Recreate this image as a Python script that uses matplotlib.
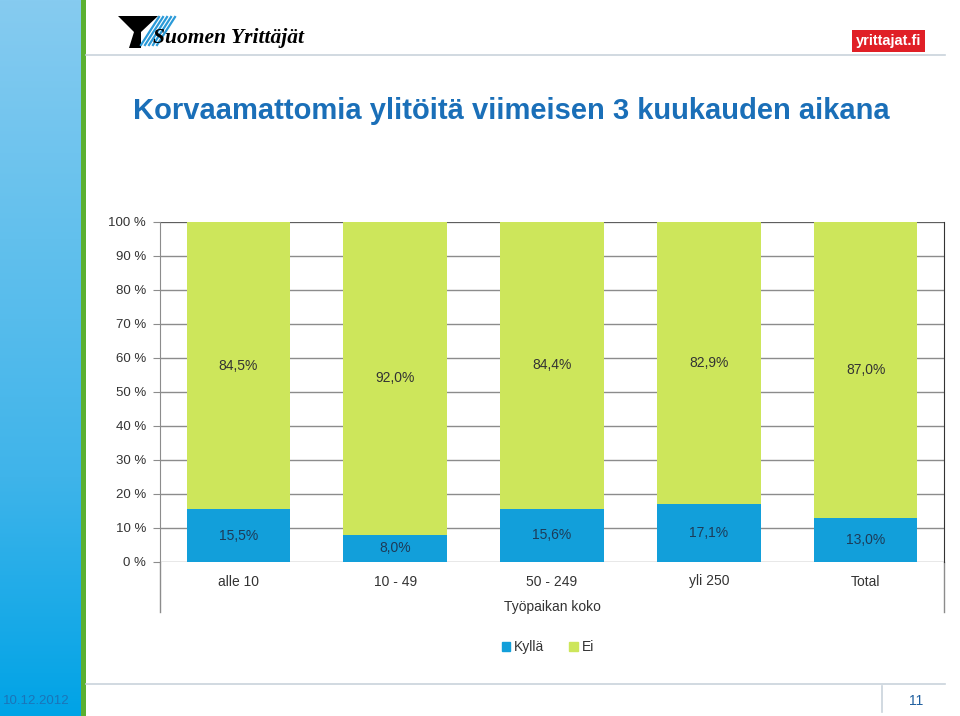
import matplotlib
matplotlib.use('Agg')
import matplotlib.pyplot as plt
import numpy as np
from matplotlib.patches import Polygon, Rectangle, Patch
from matplotlib.colors import LinearSegmentedColormap

# Data
categories = ['alle 10', '10 - 49', '50 - 249', 'yli 250', 'Total']
kylla = [15.5, 8.0, 15.6, 17.1, 13.0]
ei = [84.5, 92.0, 84.4, 82.9, 87.0]
series_names = ['Kyllä', 'Ei']
yticks = [0, 10, 20, 30, 40, 50, 60, 70, 80, 90, 100]

BLUE = '#129fda'
GREEN = '#cde65b'
TITLE_BLUE = '#1a6fb8'

plt.rcParams['font.family'] = ['Liberation Sans', 'DejaVu Sans']

W, H = 960, 716
fig = plt.figure(figsize=(W / 100, H / 100), dpi=100)

# Decoration layer in pixel coordinates
deco = fig.add_axes([0, 0, 1, 1], zorder=0)
deco.set_xlim(0, W)
deco.set_ylim(H, 0)
deco.axis('off')

# left gradient strip
cmap = LinearSegmentedColormap.from_list('strip', ['#86cbf0', '#62c0ed', '#3fb4ea', '#00a3e6'])
grad = np.linspace(0, 1, 256).reshape(-1, 1)
deco.imshow(grad, cmap=cmap, extent=[0, 81, H, 0], aspect='auto')
deco.add_patch(Rectangle((81, 0), 5, H, color='#5bb031', lw=0))
deco.text(3, 701, '10.12.2012', color='#1b74b8', fontsize=9.5, va='center', ha='left')

# header / footer rules
deco.plot([86, 945], [55, 55], color='#c9d3dc', lw=1.2)
deco.plot([86, 945], [684, 684], color='#c9d3dc', lw=1.2)
deco.plot([882, 882], [686, 712], color='#c9d3dc', lw=1.2)
deco.text(916, 701, '11', color='#1f5f9f', fontsize=10, ha='center', va='center')

# left logo
deco.add_patch(Polygon([[118, 16], [158, 16], [141, 32], [141, 48], [129, 48], [134, 32]],
                       closed=True, color='black', lw=0))
for i in range(5):
    x0 = 141 + i * 4
    deco.plot([x0, x0 + 18], [45, 17], color='#2a9ad8', lw=1.6)
deco.text(153, 38, 'Suomen Yrittäjät', fontsize=15.5, fontweight='bold', fontstyle='italic',
          family=['Liberation Serif', 'DejaVu Serif'], va='center', ha='left', color='black')

# right logo
deco.add_patch(Rectangle((852, 30), 73, 22, color='#e01f26', lw=0))
deco.text(888.5, 41, 'yrittajat.fi', color='white', fontsize=10.5, fontweight='bold',
          ha='center', va='center')

# title
deco.text(133, 111, 'Korvaamattomia ylitöitä viimeisen 3 kuukauden aikana',
          color=TITLE_BLUE, fontsize=21, fontweight='bold', ha='left', va='center')

# axis extension lines below the plot area
deco.plot([160, 160], [562, 612], color='#8c8c8c', lw=1)
deco.plot([944, 944], [562, 612], color='#8c8c8c', lw=1)

# Chart axes
ax = fig.add_axes([160 / W, (H - 562) / H, 784 / W, 340 / H], zorder=1)
ax.set_facecolor('white')
x = np.arange(len(categories))
bw = 0.66
ax.bar(x, kylla, bw, color=BLUE, zorder=3, label=series_names[0])
ax.bar(x, ei, bw, bottom=kylla, color=GREEN, zorder=3, label=series_names[1])

for i in range(len(categories)):
    ax.text(x[i], kylla[i] / 2, f'{kylla[i]:.1f}%'.replace('.', ','), ha='center', va='center',
            fontsize=10, color='#1d3b58', zorder=4)
    ax.text(x[i], kylla[i] + ei[i] / 2, f'{ei[i]:.1f}%'.replace('.', ','), ha='center', va='center',
            fontsize=10, color='#333333', zorder=4)

ax.set_xlim(-0.5, len(categories) - 0.5)
ax.set_ylim(0, 100)
ax.set_yticks(yticks)
ax.set_yticklabels([f'{t} %' for t in yticks], fontsize=9.5, color='#333333')
ax.yaxis.grid(True, color='#8c8c8c', lw=1, zorder=0)
ax.set_axisbelow(True)
ax.set_xticks(x)
ax.set_xticklabels(categories, fontsize=10, color='#333333')
ax.tick_params(axis='x', length=0, pad=9)
ax.tick_params(axis='y', length=5, color='#8c8c8c', pad=5)
for s in ['top', 'bottom']:
    ax.spines[s].set_visible(False)
ax.spines['left'].set_color('#8c8c8c')
ax.spines['right'].set_color('#333333')
ax.axhline(100, color='#555555', lw=1.2, zorder=1)
ax.set_xlabel('Työpaikan koko', fontsize=10, color='#333333', labelpad=8)

handles = [Patch(color=BLUE), Patch(color=GREEN)]
fig.legend(handles, series_names, loc='center', bbox_to_anchor=(548 / W, 1 - 647 / H),
           ncol=2, frameon=False, fontsize=10, handlelength=0.6, handleheight=0.6,
           handletextpad=0.3, columnspacing=1.8, labelcolor='#333333')

fig.savefig('out.png', dpi=100)
